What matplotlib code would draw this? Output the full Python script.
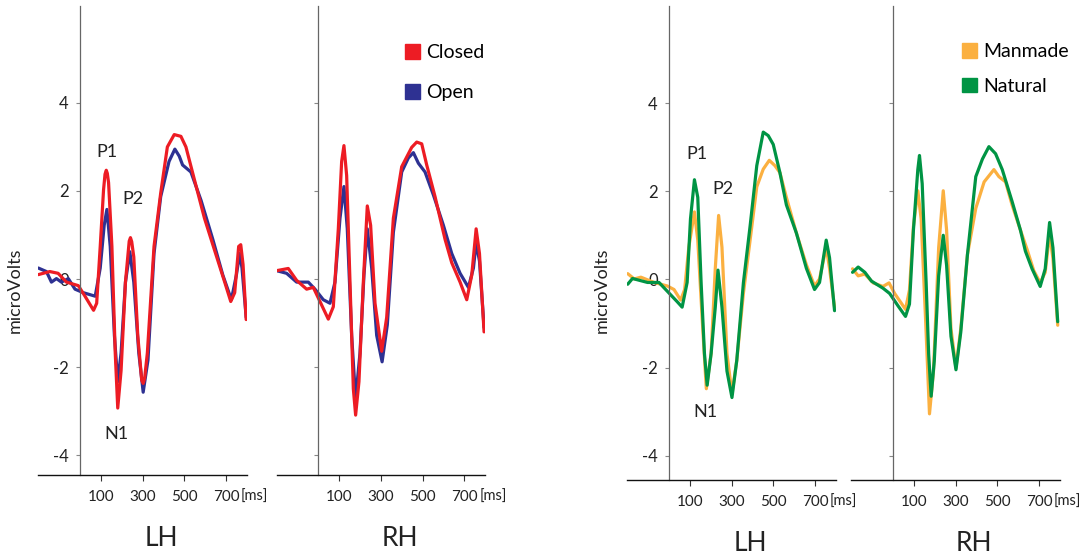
import numpy as np
import matplotlib.pyplot as plt
from matplotlib.patches import Patch

plt.rcParams['font.family'] = ['Lato', 'DejaVu Sans']
plt.rcParams['axes.unicode_minus'] = False

# ---- data, time in ms, amplitude in microvolts ----
# left pair: Closed vs Open
lh_closed_t = [-200, -145, -105, -65, -8, 24, 65, 80, 97, 113, 120, 126, 131, 137, 153, 169, 181, 197, 218,
               236, 242, 248, 258, 277, 296, 303, 310, 323, 355, 387, 419, 452, 484, 508, 548, 597, 645,
               694, 723, 742, 761, 771, 782, 797]
lh_closed_v = [0.10, 0.17, 0.13, -0.07, -0.15, -0.39, -0.71, -0.55, 0.74, 2.03, 2.38, 2.47, 2.40, 2.19,
               0.74, -1.68, -2.93, -2.08, -0.07, 0.86, 0.94, 0.85, 0.50, -1.28, -2.30, -2.37, -2.25, -1.68,
               0.74, 1.95, 3.00, 3.28, 3.24, 3.00, 2.27, 1.38, 0.66, -0.07, -0.51, -0.31, 0.74, 0.78,
               0.33, -0.92]
lh_open_t = [-200, -161, -137, -113, -89, -56, -24, 16, 73, 97, 116, 129, 145, 165, 181, 197, 218, 239,
             258, 282, 303, 326, 355, 387, 427, 455, 476, 492, 532, 581, 637, 685, 726, 750, 766, 777, 797]
lh_open_v = [0.25, 0.17, -0.07, 0.01, -0.07, 0.01, -0.23, -0.31, -0.39, 0.25, 1.22, 1.58, 0.74, -1.28,
             -2.33, -1.68, -0.07, 0.62, -0.07, -1.68, -2.57, -1.84, 0.58, 1.87, 2.67, 2.95, 2.79, 2.59,
             2.43, 1.78, 0.90, 0.09, -0.47, 0.09, 0.58, 0.25, -0.87]

rh_closed_t = [-200, -144, -104, -56, -24, 8, 48, 72, 96, 112, 123, 136, 152, 168, 179, 195, 216, 235,
               251, 272, 304, 328, 360, 400, 448, 472, 496, 520, 560, 608, 640, 680, 712, 736, 757, 773, 795]
rh_closed_v = [0.19, 0.24, -0.03, -0.23, -0.19, -0.51, -0.91, -0.63, 1.14, 2.67, 3.03, 2.35, -0.07, -2.49,
               -3.09, -2.33, -0.07, 1.66, 1.22, -0.55, -1.64, -0.87, 1.38, 2.55, 2.99, 3.11, 3.07, 2.59,
               1.87, 0.90, 0.37, -0.07, -0.47, 0.09, 1.14, 0.58, -1.20]
rh_open_t = [-200, -152, -104, -48, -16, 24, 56, 80, 104, 123, 139, 160, 179, 200, 219, 235, 256, 280,
             306, 331, 360, 400, 432, 456, 480, 512, 552, 600, 640, 680, 720, 744, 757, 773, 795]
rh_open_v = [0.19, 0.13, -0.07, -0.07, -0.23, -0.47, -0.55, -0.07, 1.38, 2.10, 1.14, -1.28, -2.73, -1.68,
             0.09, 1.14, 0.25, -1.28, -1.88, -1.04, 1.06, 2.43, 2.75, 2.87, 2.63, 2.43, 1.91, 1.22, 0.58,
             0.13, -0.19, 0.25, 0.82, 0.41, -1.10]

# right pair: Manmade vs Natural
lh_natural_t = [-198, -175, -103, -48, -8, 40, 63, 87, 103, 122, 138, 154, 170, 183, 202, 222, 235, 254,
                278, 302, 325, 357, 389, 421, 452, 476, 500, 532, 563, 611, 659, 698, 722, 754, 770, 794]
lh_natural_v = [-0.11, 0.02, -0.07, -0.07, -0.27, -0.51, -0.63, -0.07, 1.37, 2.26, 1.86, -0.07, -1.68,
                -2.40, -1.68, -0.63, 0.21, -0.63, -2.08, -2.68, -1.84, -0.07, 1.21, 2.58, 3.34, 3.26, 3.06,
                2.42, 1.69, 1.05, 0.25, -0.23, -0.07, 0.89, 0.49, -0.71]
lh_manmade_t = [-198, -167, -135, -71, -8, 24, 56, 75, 95, 122, 138, 159, 179, 202, 222, 238, 254, 278,
                302, 325, 357, 389, 421, 452, 481, 508, 532, 563, 611, 659, 698, 722, 754, 770, 794]
lh_manmade_v = [0.13, 0.01, 0.05, -0.07, -0.15, -0.23, -0.47, -0.23, 0.73, 1.53, 0.89, -0.88, -2.48, -1.68,
                0.25, 1.45, 0.73, -1.68, -2.60, -1.84, -0.31, 0.89, 2.10, 2.50, 2.70, 2.58, 2.42, 1.86,
                1.05, 0.33, -0.15, 0.01, 0.73, 0.25, -0.63]

rh_natural_t = [-194, -167, -135, -103, -48, -16, 24, 60, 79, 98, 119, 127, 140, 159, 171, 183, 198, 219,
                241, 257, 278, 302, 325, 357, 397, 429, 460, 492, 524, 571, 611, 635, 667, 706, 730, 751,
                767, 790]
rh_natural_v = [0.16, 0.28, 0.16, -0.04, -0.20, -0.32, -0.60, -0.84, -0.56, 1.12, 2.49, 2.81, 2.17, -0.08,
                -1.69, -2.65, -1.85, 0.08, 1.00, 0.32, -1.29, -2.05, -1.20, 0.56, 2.33, 2.73, 3.01, 2.85,
                2.49, 1.77, 1.12, 0.64, 0.24, -0.16, 0.24, 1.29, 0.72, -0.96]
rh_manmade_t = [-194, -167, -135, -95, -48, -19, 8, 60, 79, 98, 119, 135, 156, 175, 194, 219, 241, 257,
                278, 302, 325, 357, 397, 437, 484, 508, 540, 571, 611, 643, 675, 706, 730, 751, 767, 790]
rh_manmade_v = [0.24, 0.08, 0.12, -0.08, -0.16, -0.08, -0.32, -0.68, -0.24, 1.20, 2.01, 1.37, -0.88, -3.05,
                -2.09, 0.72, 2.01, 1.12, -1.12, -2.01, -1.12, 0.56, 1.61, 2.21, 2.49, 2.33, 2.21, 1.69,
                1.12, 0.68, 0.20, -0.08, 0.16, 1.04, 0.48, -1.04]

x_ticks = [100, 300, 500, 700]
y_ticks = [-4, -2, 0, 2, 4]

RED = '#ed1c24'
BLUE = '#2e3192'
ORANGE = '#fbb040'
GREEN = '#009444'

fig = plt.figure(figsize=(10.82, 5.56), dpi=100)
W, H = 1082.0, 556.0


def make_axes(left_px, bottom_px, top_px):
    return fig.add_axes([left_px / W, (H - bottom_px) / H, 208.5 / W, (bottom_px - top_px) / H])


def style_axes(ax, ylim, show_labels):
    ax.set_xlim(-200, 800)
    ax.set_ylim(*ylim)
    ax.patch.set_alpha(0)
    for s in ['top', 'right']:
        ax.spines[s].set_visible(False)
    ax.spines['left'].set_position(('data', 0))
    ax.spines['left'].set_color('#666666')
    ax.spines['left'].set_linewidth(0.9)
    ax.spines['bottom'].set_color('#111111')
    ax.spines['bottom'].set_linewidth(1.0)
    ax.set_xticks(x_ticks)
    ax.set_xticklabels([str(t) for t in x_ticks])
    ax.set_yticks(y_ticks)
    ax.tick_params(axis='x', direction='out', length=4, width=0.8, color='#333333',
                   labelsize=11, pad=7, labelcolor='#222222')
    ax.tick_params(axis='y', direction='out', length=3, width=0.8, color='#888888',
                   labelsize=12, pad=5, labelcolor='#222222')
    if show_labels:
        ax.set_yticklabels([str(v) for v in y_ticks])
    else:
        ax.set_yticklabels([])
    ax.text(772, -0.047, '[ms]', transform=ax.get_xaxis_transform(), fontsize=10.5,
            ha='left', va='center', color='#222222')


ax1 = make_axes(38.3, 475, 6)
ax2 = make_axes(276.6, 475, 6)
ax3 = make_axes(627.3, 480, 6)
ax4 = make_axes(851.3, 480, 6)

lw = 2.3
kw = dict(lw=lw, solid_joinstyle='round', solid_capstyle='round')
ax1.plot(lh_open_t, lh_open_v, color=BLUE, **kw)
ax1.plot(lh_closed_t, lh_closed_v, color=RED, **kw)
ax2.plot(rh_open_t, rh_open_v, color=BLUE, **kw)
ax2.plot(rh_closed_t, rh_closed_v, color=RED, **kw)
ax3.plot(lh_manmade_t, lh_manmade_v, color=ORANGE, **kw)
ax3.plot(lh_natural_t, lh_natural_v, color=GREEN, **kw)
ax4.plot(rh_manmade_t, rh_manmade_v, color=ORANGE, **kw)
ax4.plot(rh_natural_t, rh_natural_v, color=GREEN, **kw)

style_axes(ax1, (-4.45, 6.2), True)
style_axes(ax2, (-4.45, 6.2), False)
style_axes(ax3, (-4.55, 6.2), True)
style_axes(ax4, (-4.55, 6.2), False)

for ax, name in [(ax1, 'LH'), (ax2, 'RH'), (ax3, 'LH'), (ax4, 'RH')]:
    ax.text(390, -0.135, name, transform=ax.get_xaxis_transform(), fontsize=19,
            ha='center', va='center', color='#222222')

# component labels
for ax, pos in [(ax1, [(130, 2.89), (254, 1.82), (177, -3.52)]),
                (ax3, [(134, 2.84), (259, 2.05), (177, -3.0)])]:
    for lab, (t, v) in zip(['P1', 'P2', 'N1'], pos):
        ax.text(t, v, lab, fontsize=13, ha='center', va='center', color='#222222')

fig.text(15 / W, 1 - 290 / H, 'microVolts', rotation=90, fontsize=13, ha='center', va='center',
         color='#222222')
fig.text(602 / W, 1 - 290 / H, 'microVolts', rotation=90, fontsize=13, ha='center', va='center',
         color='#222222')

# legends
leg_kw = dict(frameon=False, loc='upper left', fontsize=14, handlelength=0.78, handleheight=0.78,
              handletextpad=0.3, borderpad=0, borderaxespad=0)
fig.legend(handles=[Patch(color=RED, label='Closed'), Patch(color=BLUE, label='Open')],
           bbox_to_anchor=(405 / W, 1 - 44 / H), labelspacing=1.2, **leg_kw)
fig.legend(handles=[Patch(color=ORANGE, label='Manmade'), Patch(color=GREEN, label='Natural')],
           bbox_to_anchor=(962 / W, 1 - 43 / H), labelspacing=0.9, **leg_kw)

plt.savefig('out.png', dpi=100)
